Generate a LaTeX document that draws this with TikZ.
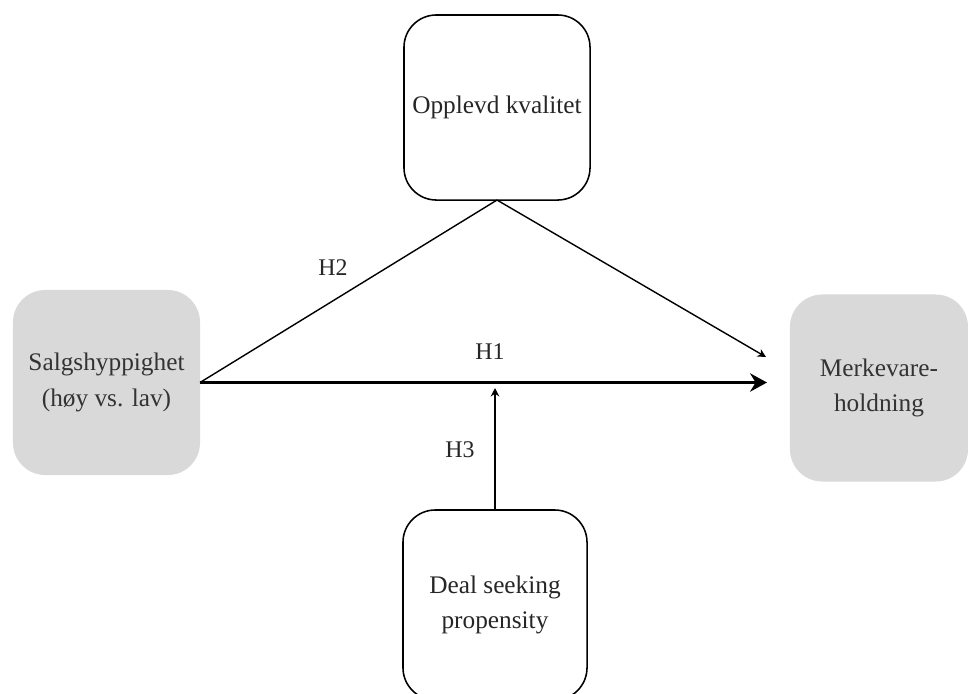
\documentclass[tikz,border=0pt]{standalone}
\usepackage{fontspec}
\setmainfont{Liberation Serif}
\usetikzlibrary{arrows.meta,positioning}

\definecolor{boxgrey}{HTML}{D9D9D9}
\definecolor{textgrey}{HTML}{333333}

\tikzset{
	construct/.style={rectangle, rounded corners=23pt, minimum width=4.65cm, minimum height=4.62cm,
		align=center, font=\fontsize{18}{25}\selectfont, inner sep=2pt, outer sep=0pt},
	observed/.style={construct, fill=boxgrey, text=textgrey},
	moderator/.style={construct, draw, line width=1.1pt, text=black!85},
	hyp/.style={font=\fontsize{17}{20}\selectfont, text=black!85}
}

\begin{document}
\begin{tikzpicture}[x=0.025cm, y=-0.025cm, ->, >={Stealth[length=6pt,width=6pt]}, line width=1pt]
	\useasboundingbox (0,0) rectangle (968,693);

	\node[observed] (sales) at (106.5,382.5) [minimum width=4.675cm, minimum height=4.625cm] {Salgshyppighet\\(høy vs. lav)};
	\node[observed] (brand) at (879,388) [minimum width=4.45cm, minimum height=4.675cm] {Merkevare-\\holdning};
	\node[moderator] (quality) at (497,107.5) [minimum width=4.65cm, minimum height=4.625cm] {Opplevd kvalitet};
	\node[moderator] (deal) at (495,605) [minimum width=4.6cm, minimum height=4.75cm] {Deal seeking\\propensity};

	\coordinate (h1tip) at (767,382.5);
	\coordinate (h2tip) at (766,357);
	\coordinate (h3tip) at (495,388);

	\path (sales.east) edge [line width=2.8pt, >={Stealth[length=12pt,width=13pt]}] (h1tip);
	\draw[-] (sales.east) -- (quality.south);
	\path (quality.south) edge (h2tip);
	\path (deal.north) edge (h3tip);

	\node[hyp] (lblH1) at (490,352) {H1};
	\node[hyp] (lblH2) at (333,268) {H2};
	\node[hyp] (lblH3) at (460,450) {H3};
\end{tikzpicture}
\end{document}
